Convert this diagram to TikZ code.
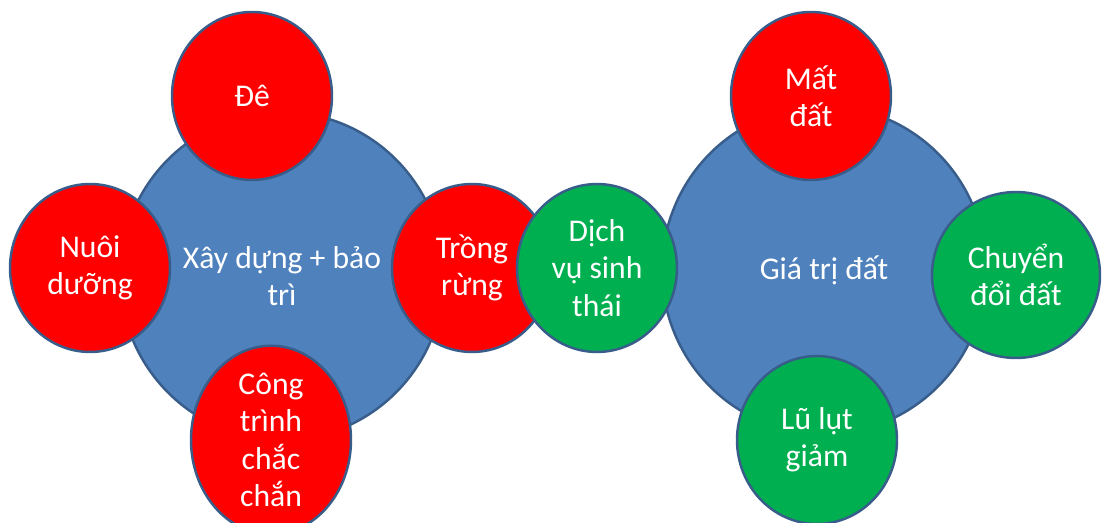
\documentclass[tikz,border=0pt]{standalone}
\usepackage{fontspec}
\setmainfont{Carlito}
\usepackage{tikz}
\usetikzlibrary{shapes.geometric}
\usepackage{xcolor}
\definecolor{bigblue}{HTML}{4F81BD}
\definecolor{rimblue}{HTML}{385D8A}
\definecolor{satred}{HTML}{FF0000}
\definecolor{satgreen}{HTML}{00B050}

\begin{document}
\begin{tikzpicture}[x=0.02cm,y=-0.02cm,
  disc/.style={ellipse,draw=rimblue,line width=1.4pt,inner sep=0pt,
    text=white,align=center,font=\fontsize{18}{21.2}\selectfont},
  hub/.style={disc,fill=bigblue,minimum width=6.48cm,minimum height=6.56cm},
  redsat/.style={disc,fill=satred,minimum width=3.2cm,minimum height=3.36cm},
  greensat/.style={disc,fill=satgreen,minimum width=3.2cm,minimum height=3.36cm}]
 \useasboundingbox (0,0) rectangle (1102,523);

 % the two hubs
 \node[hub] (build) at (282,276) {Xây dựng + bảo\\trì};
 \node[hub] (value) at (824,270) {Giá trị đất};

 % satellites of the left hub
 \node[redsat] (de) at (252,96) {Đê};
 \node[redsat] (nuoi) at (90,268) {Nuôi\\dưỡng};
 \node[redsat] (congtrinh) at (271,440) {Công\\trình\\chắc\\chắn};
 \node[redsat] (trong) at (472,268) {Trồng\\rừng};

 % satellites of the right hub
 \node[greensat] (dichvu) at (597,268) {Dịch\\vụ sinh\\thái};
 \node[redsat] (mat) at (811,96) {Mất\\đất};
 \node[greensat,minimum width=3.36cm,minimum height=3.32cm] (chuyen) at (1016,275) {Chuyển\\đổi đất};
 \node[greensat] (lulut) at (817,440) {Lũ lụt\\giảm};
\end{tikzpicture}
\end{document}
